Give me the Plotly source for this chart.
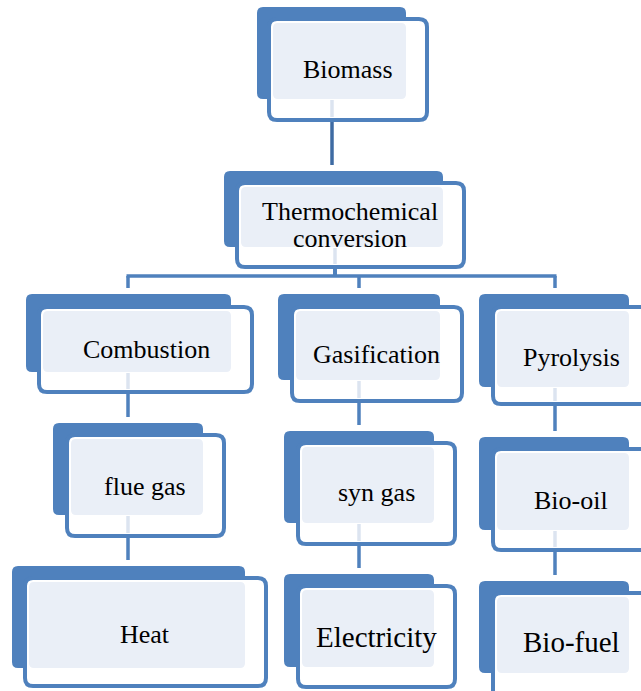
import plotly.graph_objects as go

# node labels and the text size used for each
labels = ['Biomass', 'Thermochemical\nconversion', 'Combustion', 'Gasification', 'Pyrolysis',
          'flue gas', 'syn gas', 'Bio-oil', 'Heat', 'Electricity', 'Bio-fuel']
label_sizes = [26, 26, 26, 26, 26, 26, 26, 26, 26, 29, 29]

# links of the tree (parent index, child index)
links = [(0, 1), (1, 2), (1, 3), (1, 4), (2, 5), (3, 6), (4, 7), (5, 8), (6, 9), (7, 10)]

# box geometry in pixels: back box (x0, y0, x1, y1), front box (x0, y0, x1, y1), text centre
back_boxes = [(257, 7, 406, 99), (224, 171, 443, 247), (26, 294, 231, 372), (278, 294, 440, 380),
              (479, 294, 629, 387), (53, 423, 203, 515), (284, 431, 434, 523), (479, 437, 629, 530),
              (12, 566, 245, 668), (284, 574, 434, 667), (479, 581, 629, 673)]
front_boxes = [(269, 19, 427, 120), (237, 183, 464, 267), (39, 307, 252, 392), (292, 307, 462, 401),
               (493, 307, 660, 404), (67, 435, 224, 536), (298, 443, 455, 544), (493, 449, 660, 550),
               (25, 578, 266, 686), (298, 586, 455, 687), (493, 593, 660, 705)]
text_pos = [(348, 69), (350, 211), (146, 349), (376, 354), (571, 357), (145, 486),
            (376, 492), (571, 500), (145, 634), (376, 637), (571, 642)]
link_x = [332, 335, 128, 359, 555, 128, 359, 555, 128, 359, 555]

BLUE = '#4F81BD'
PALE = '#EAEFF7'


def rounded(x0, y0, x1, y1, r):
    return (f'M{x0 + r},{y0} L{x1 - r},{y0} Q{x1},{y0} {x1},{y0 + r} '
            f'L{x1},{y1 - r} Q{x1},{y1} {x1 - r},{y1} L{x0 + r},{y1} '
            f'Q{x0},{y1} {x0},{y1 - r} L{x0},{y0 + r} Q{x0},{y0} {x0 + r},{y0} Z')


shapes = []

# connectors
bus_y = 276
for p, c in links:
    px = link_x[p]
    cx = link_x[c]
    top = back_boxes[c][1] - 6
    if p == 1:
        shapes.append(dict(type='line', x0=px, x1=px, y0=front_boxes[p][3], y1=bus_y,
                           line=dict(color=BLUE, width=3.5)))
        shapes.append(dict(type='line', x0=cx, x1=cx, y0=bus_y, y1=top,
                           line=dict(color=BLUE, width=3.5)))
    else:
        col = '#3E6BA3' if p == 0 else BLUE
        shapes.append(dict(type='line', x0=px, x1=px, y0=front_boxes[p][3], y1=top,
                           line=dict(color=col, width=3.5)))
shapes.append(dict(type='line', x0=link_x[2] - 1.5, x1=link_x[4] + 1.5, y0=bus_y, y1=bus_y,
                   line=dict(color=BLUE, width=3.5)))

# boxes
for (bx0, by0, bx1, by1), (fx0, fy0, fx1, fy1) in zip(back_boxes, front_boxes):
    shapes.append(dict(type='path', path=rounded(bx0, by0, bx1, by1, 6),
                       fillcolor=BLUE, line=dict(width=0)))
    shapes.append(dict(type='path', path=rounded(fx0, fy0, fx1, fy1, 8),
                       fillcolor='white', line=dict(color=BLUE, width=4)))
    shapes.append(dict(type='path', path=rounded(fx0 + 4, fy0 + 4, bx1, by1, 5),
                       fillcolor=PALE, line=dict(width=0)))

# faint connector stubs inside the front boxes
for i, x in enumerate(link_x):
    if i in [p for p, _ in links]:
        shapes.append(dict(type='line', x0=x, x1=x, y0=back_boxes[i][3] + 1, y1=front_boxes[i][3] - 3,
                           line=dict(color='#DCE4F0', width=3.5)))

for s in shapes:
    s['layer'] = 'below'

# text, one annotation per line
annotations = []
for lab, (x, y), s in zip(labels, text_pos, label_sizes):
    for k, line in enumerate(lab.split('\n')):
        annotations.append(dict(x=x, y=y + 27 * k, text=line, showarrow=False,
                                xanchor='center', yanchor='middle',
                                font=dict(family='Liberation Serif', size=s, color='black')))

fig = go.Figure()

fig.update_layout(
    width=641, height=691,
    margin=dict(l=0, r=0, t=0, b=0),
    paper_bgcolor='white', plot_bgcolor='rgba(0,0,0,0)',
    shapes=shapes, annotations=annotations,
    xaxis=dict(range=[0, 641], visible=False, fixedrange=True),
    yaxis=dict(range=[691, 0], visible=False, fixedrange=True),
)

fig.write_html('out.html', config={'displayModeBar': False},
               post_script="document.body.style.margin='0';document.body.style.overflow='hidden';")
